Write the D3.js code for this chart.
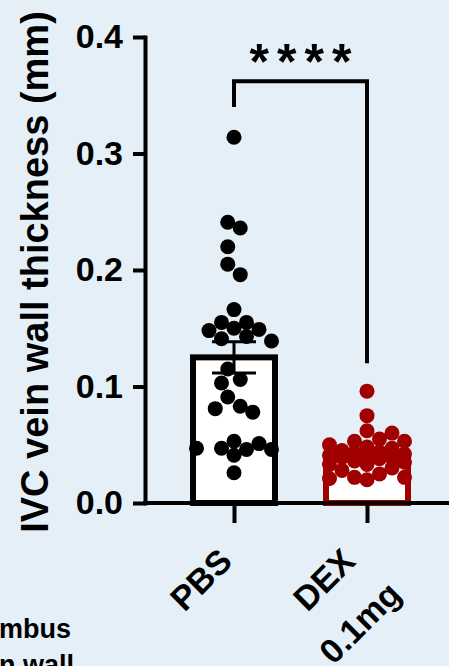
<!DOCTYPE html>
<html>
<head>
<meta charset="utf-8">
<script src="https://cdn.jsdelivr.net/npm/d3@7"></script>
<style>
  html, body { margin: 0; padding: 0; background: #e4eff7; }
  svg { display: block; }
  text { font-family: "Liberation Sans", Arial, sans-serif; font-weight: bold; fill: #000; }
</style>
</head>
<body>
<svg id="chart" width="449" height="666"></svg>
<script>
// groups and their axis labels (one entry per line)
const groups = ["PBS", "DEX"];
const groupLabels = [["PBS"], ["DEX", "0.1mg"]];
const groupColors = ["#000000", "#a00000"];

// individual animals, IVC wall thickness (mm)
const pbsValues = [0.314, 0.241, 0.236, 0.220, 0.205, 0.196, 0.166, 0.155, 0.155, 0.150,
  0.149, 0.148, 0.143, 0.141, 0.139, 0.115, 0.106, 0.103, 0.091, 0.083,
  0.081, 0.078, 0.053, 0.051, 0.047, 0.047, 0.046, 0.046, 0.041, 0.026];
const dexValues = [0.096, 0.075, 0.062, 0.060, 0.055, 0.053, 0.053, 0.050, 0.048, 0.047,
  0.045, 0.044, 0.043, 0.042, 0.041, 0.040, 0.039, 0.039, 0.038, 0.036,
  0.035, 0.033, 0.033, 0.030, 0.028, 0.025, 0.022, 0.022, 0.021, 0.020];

// bar = mean, error bar = SEM
const barMeans = [0.125, 0.040];
const barSems = [0.0135, 0.003];

const yTicks = [0.0, 0.1, 0.2, 0.3, 0.4];
const yTitle = "IVC vein wall thickness (mm)";
const sigLabel = "****";
// bracket: top, left leg end, right leg end (data units)
const bracket = [0.362, 0.340, 0.120];
const cutText = ["mbus", "n wall"];

const svg = d3.select("#chart");
svg.append("rect").attr("width", 449).attr("height", 666).attr("fill", "#e4eff7");

const y = d3.scaleLinear().domain([0, 0.4]).range([503, 37]);
const x = d3.scalePoint().domain(groups).range([234, 367]);
const axisX = 145;
const barW = 82;
const r = 7.5;

// bars
const bars = svg.append("g");
groups.forEach((g, i) => {
  bars.append("rect")
    .attr("x", x(g) - barW / 2).attr("y", y(barMeans[i]))
    .attr("width", barW).attr("height", y(0) - y(barMeans[i]))
    .attr("fill", "#fff").attr("stroke", groupColors[i]).attr("stroke-width", 6);
});

// error bars
groups.forEach((g, i) => {
  const lo = y(barMeans[i] - barSems[i]), hi = y(barMeans[i] + barSems[i]);
  const e = svg.append("g").attr("stroke", groupColors[i]).attr("stroke-width", 3);
  e.append("line").attr("x1", x(g)).attr("x2", x(g)).attr("y1", lo).attr("y2", hi);
  e.append("line").attr("x1", x(g) - 22).attr("x2", x(g) + 22).attr("y1", lo).attr("y2", lo);
  e.append("line").attr("x1", x(g) - 22).attr("x2", x(g) + 22).attr("y1", hi).attr("y2", hi);
});

// simple beeswarm: slot offsets around the group centre, then small clusters re-centred
function swarm(values, cx) {
  const step = 12.5, minDist = 13.5, maxK = 3;
  const pts = values.map(v => ({ v: v, y: y(v) })).sort((a, b) => b.v - a.v);
  const placed = [];
  const order = [0];
  for (let k = 1; k <= maxK; k++) order.push(k, -k);
  pts.forEach(p => {
    let best = null, bestD = -1;
    for (const k of order) {
      const px = cx + k * step;
      const d = placed.reduce((m, q) => Math.min(m, Math.hypot(q.x - px, q.y - p.y)), Infinity);
      if (d >= minDist) { best = px; break; }
      if (d > bestD) { bestD = d; best = px; }
    }
    p.x = best;
    placed.push(p);
  });
  // connected clusters
  const seen = new Set();
  placed.forEach(p => {
    if (seen.has(p)) return;
    const cl = [p]; seen.add(p);
    for (let i = 0; i < cl.length; i++) {
      placed.forEach(q => {
        if (!seen.has(q) && Math.hypot(q.x - cl[i].x, q.y - cl[i].y) < 18) { seen.add(q); cl.push(q); }
      });
    }
    if (cl.length > 4) return;
    const mid = (d3.min(cl, q => q.x) + d3.max(cl, q => q.x)) / 2;
    const shift = Math.round((cx - mid) / (step / 2)) * (step / 2);
    if (!shift) return;
    const others = placed.filter(q => !cl.includes(q));
    const ok = cl.every(a => others.every(b => Math.hypot(a.x + shift - b.x, a.y - b.y) >= 12));
    if (ok) cl.forEach(a => a.x += shift);
  });
  return placed;
}

[pbsValues, dexValues].forEach((vals, i) => {
  svg.append("g").selectAll("circle").data(swarm(vals, x(groups[i]))).enter()
    .append("circle").attr("cx", d => d.x).attr("cy", d => d.y).attr("r", r)
    .attr("fill", groupColors[i]);
});

// y axis
const yAxis = svg.append("g").attr("transform", `translate(${axisX},0)`)
  .call(d3.axisLeft(y).tickValues(yTicks).tickFormat(d3.format(".1f")).tickSize(12).tickSizeOuter(0).tickPadding(10));
yAxis.select(".domain").attr("stroke", "#000").attr("stroke-width", 4).attr("stroke-linecap", "square");
yAxis.selectAll(".tick line").attr("stroke", "#000").attr("stroke-width", 4);
yAxis.selectAll(".tick text").attr("font-size", 34).attr("font-family", "Liberation Sans, Arial, sans-serif").attr("font-weight", "bold").attr("fill", "#000");

// x axis
svg.append("line").attr("x1", axisX - 2).attr("x2", 449).attr("y1", y(0)).attr("y2", y(0))
  .attr("stroke", "#000").attr("stroke-width", 4);
const xAxis = svg.append("g").attr("transform", `translate(0,${y(0)})`)
  .call(d3.axisBottom(x).tickSize(20).tickSizeOuter(0).tickFormat(""));
xAxis.select(".domain").remove();
xAxis.selectAll(".tick line").attr("stroke", "#000").attr("stroke-width", 4);

// rotated group labels, lines centred in a block
const c = Math.SQRT1_2;
groups.forEach((g, i) => {
  const lines = groupLabels[i];
  const tmp = lines.map(t => svg.append("text").attr("font-size", 34).text(t));
  const blockW = d3.max(tmp, t => t.node().getComputedTextLength());
  tmp.forEach(t => t.remove());
  lines.forEach((t, j) => {
    const px = x(g) - (blockW / 2) * c + j * 36;
    const py = 588 + j * 43;
    svg.append("text").attr("font-size", 34).attr("text-anchor", "middle")
      .attr("transform", `translate(${px},${py}) rotate(-45)`).text(t);
  });
});

// y title
svg.append("text").attr("font-size", 38).attr("text-anchor", "middle")
  .attr("transform", `translate(48,${(y(0) + y(0.4)) / 2 + 2}) rotate(-90)`).text(yTitle);

// significance bracket
svg.append("path")
  .attr("d", `M${x(groups[0])},${y(bracket[1])}V${y(bracket[0])}H${x(groups[1])}V${y(bracket[2])}`)
  .attr("fill", "none").attr("stroke", "#000").attr("stroke-width", 4);
svg.append("text").attr("font-size", 50).attr("text-anchor", "middle")
  .attr("font-family", "DejaVu Sans, sans-serif").attr("letter-spacing", 8)
  .attr("x", (x(groups[0]) + x(groups[1])) / 2 + 4).attr("y", 79).text(sigLabel);

// clipped caption from the neighbouring panel
cutText.forEach((t, j) => {
  svg.append("text").attr("font-size", 27).attr("x", -1).attr("y", 638 + j * 36).text(t);
});
</script>
</body>
</html>
